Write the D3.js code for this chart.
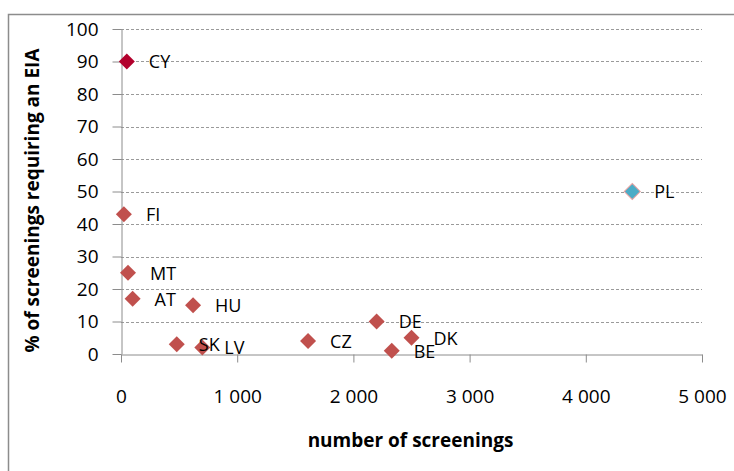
<!DOCTYPE html>
<html>
<head>
<meta charset="utf-8">
<script src="https://cdn.jsdelivr.net/npm/d3@7"></script>
<style>
  html, body { margin: 0; padding: 0; background: #fff; }
  svg { display: block; }
  text { font-family: "Open Sans", Lato, sans-serif; fill: #000; }
</style>
</head>
<body>
<script>
// Screening decisions by member state
const countries = ["CY", "FI", "MT", "AT", "HU", "SK", "LV", "CZ", "DE", "BE", "DK", "PL"];
const screenings = [50, 25, 60, 100, 620, 480, 700, 1610, 2200, 2330, 2500, 4400];
const eiaShare = [90, 43, 25, 17, 15, 3, 2, 4, 10, 1, 5, 50];
const markerColors = ["#b2002c", "#c0504d", "#c0504d", "#c0504d", "#c0504d", "#c0504d",
                      "#c0504d", "#c0504d", "#c0504d", "#c0504d", "#c0504d", "#4bacc6"];
const xTicks = [0, 1000, 2000, 3000, 4000, 5000];
const yTicks = [0, 10, 20, 30, 40, 50, 60, 70, 80, 90, 100];
const xTitle = "number of screenings";
const yTitle = "% of screenings requiring an EIA";

const W = 734, H = 471;
const plot = { left: 121, right: 702, top: 29, bottom: 354 };
const FONT = "'Open Sans', Lato, sans-serif";

const svg = d3.select("body").append("svg").attr("width", W).attr("height", H);

// chart frame
svg.append("rect")
  .attr("x", 8.5).attr("y", 14.5)
  .attr("width", W).attr("height", H)
  .attr("fill", "none").attr("stroke", "#8c8c8c").attr("stroke-width", 1.5);

const x = d3.scaleLinear().domain([0, 5000]).range([plot.left, plot.right]);
const y = d3.scaleLinear().domain([0, 100]).range([plot.bottom, plot.top]);

const fmt = v => d3.format(",")(v).replace(/,/g, " ");

// horizontal dashed gridlines
svg.append("g")
  .selectAll("line")
  .data(yTicks.filter(d => d > 0))
  .join("line")
  .attr("x1", plot.left).attr("x2", plot.right)
  .attr("y1", d => Math.round(y(d)) + 0.5).attr("y2", d => Math.round(y(d)) + 0.5)
  .attr("stroke", "#9a9a9a").attr("stroke-width", 1)
  .attr("stroke-dasharray", "3,2");

// y axis
const yAxis = svg.append("g")
  .attr("transform", `translate(${plot.left + 0.5},0)`)
  .call(d3.axisLeft(y).tickValues(yTicks).tickSize(9).tickPadding(14).tickSizeOuter(0));
yAxis.select(".domain").attr("stroke", "#8c8c8c");
yAxis.selectAll(".tick line").attr("stroke", "#8c8c8c");
yAxis.selectAll(".tick text")
  .attr("font-size", 19).attr("font-family", FONT).attr("fill", "#000");

// x axis
const xAxis = svg.append("g")
  .attr("transform", `translate(0,${plot.bottom + 0.5})`)
  .call(d3.axisBottom(x).tickValues(xTicks).tickFormat(fmt).tickSize(8).tickPadding(27).tickSizeOuter(0));
xAxis.select(".domain").attr("stroke", "#8c8c8c");
xAxis.selectAll(".tick line").attr("stroke", "#8c8c8c");
xAxis.selectAll(".tick text")
  .attr("font-size", 19).attr("font-family", FONT).attr("fill", "#000");

// axis titles
svg.append("text")
  .attr("x", (plot.left + plot.right) / 2 - 1).attr("y", 447)
  .attr("text-anchor", "middle")
  .attr("font-size", 19).attr("font-weight", "bold")
  .text(xTitle);

svg.append("text")
  .attr("transform", `translate(39,${(plot.top + plot.bottom) / 2 + 9}) rotate(-90)`)
  .attr("text-anchor", "middle")
  .attr("font-size", 19).attr("font-weight", "bold")
  .text(yTitle);

// diamond markers
const idx = d3.range(countries.length);
const diamond = d3.symbol().type(d3.symbolSquare).size(128);
svg.append("g")
  .selectAll("path")
  .data(idx)
  .join("path")
  .attr("d", diamond)
  .attr("transform", i => `translate(${x(screenings[i])},${y(eiaShare[i])}) rotate(45)`)
  .attr("fill", i => markerColors[i])
  .attr("stroke", i => i === countries.length - 1 ? "#e8a0a0" : "none")
  .attr("stroke-width", 1);

// country labels
svg.append("g")
  .selectAll("text")
  .data(idx)
  .join("text")
  .attr("x", i => x(screenings[i]) + 22)
  .attr("y", i => y(eiaShare[i]) + 2)
  .attr("dominant-baseline", "middle")
  .attr("font-size", 18)
  .text(i => countries[i]);
</script>
</body>
</html>
